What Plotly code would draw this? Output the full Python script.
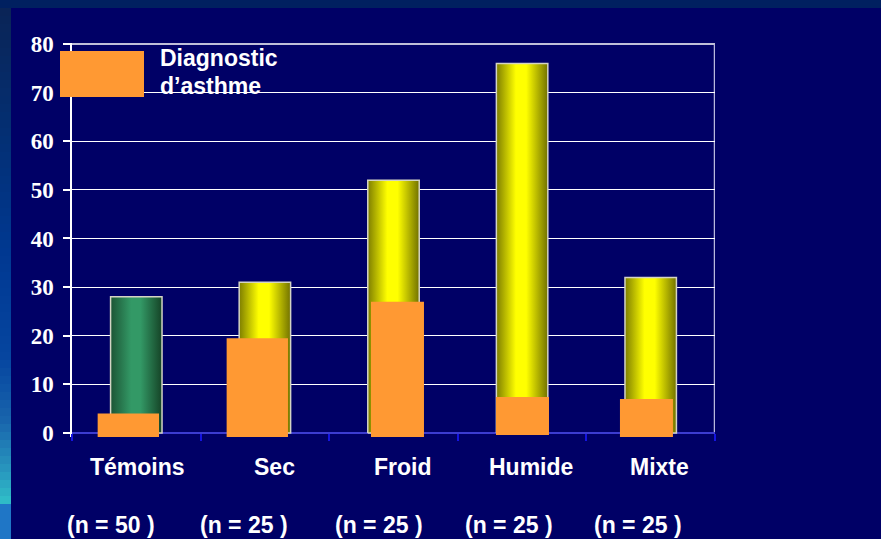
import plotly.graph_objects as go

# ---- data -------------------------------------------------------------
categories = ["Témoins", "Sec", "Froid", "Humide", "Mixte"]
group_sizes = ["(n = 50 )", "(n = 25 )", "(n = 25 )", "(n = 25 )", "(n = 25 )"]
total_values = [28, 31, 52, 76, 32]          # cylinder heights
asthma_values = [4, 19.5, 27, 7.4, 7]        # "Diagnostic d'asthme" blocks
y_ticks = [0, 10, 20, 30, 40, 50, 60, 70, 80]

# ---- styling ----------------------------------------------------------
BG = "#000066"
ORANGE = "#ff9933"
YELLOW_SCALE = [[0, "#7e7e00"], [0.38, "#ffff00"], [0.58, "#ffff00"], [1, "#727200"]]
GREEN_SCALE = [[0, "#1c5434"], [0.4, "#339966"], [0.58, "#339966"], [1, "#154326"]]
cyl_scales = [GREEN_SCALE] + [YELLOW_SCALE] * 4
CYL_WIDTH = 0.4
orange_width = [0.477, 0.477, 0.412, 0.412, 0.412]
orange_offset = [-0.062, -0.059, 0.031, 0.003, -0.033]
orange_base = [-0.8, -0.8, -0.8, -0.4, -0.8]
label_shift = [1, 10, 9, 9, 9]
size_shift = [-25, -21, -15, -13, -13]

W, H = 881, 539
L, R, T, B = 72, 715, 43, 437
Y_MIN, Y_MAX = -0.82, 80.2


def px_x(p):
    return (p - L) / (R - L)


def px_y(p):
    return (B - p) / (B - T)


fig = go.Figure()

# cylinders with horizontal shading
for i, (v, sc) in enumerate(zip(total_values, cyl_scales)):
    x0, x1 = i - CYL_WIDTH / 2, i + CYL_WIDTH / 2
    fig.add_trace(go.Scatter(
        x=[x0, x1, x1, x0, x0], y=[0, 0, v, v, 0],
        mode="lines", fill="toself",
        fillgradient=dict(type="horizontal", colorscale=sc, start=x0, stop=x1),
        line=dict(color="#d4d4c4", width=1.5),
        hoverinfo="skip", showlegend=False,
    ))

# asthma diagnosis blocks drawn on top
for i, v in enumerate(asthma_values):
    c = i + orange_offset[i]
    x0, x1 = c - orange_width[i] / 2, c + orange_width[i] / 2
    b = orange_base[i]
    fig.add_trace(go.Scatter(
        x=[x0, x1, x1, x0, x0], y=[b, b, v, v, b],
        mode="lines", fill="toself", fillcolor=ORANGE,
        line=dict(width=0, color=ORANGE),
        hoverinfo="skip", showlegend=False,
    ))

shapes = []
# top band of the slide background
shapes.append(dict(type="rect", xref="paper", yref="paper",
                   x0=px_x(0), x1=px_x(W), y0=px_y(8), y1=px_y(0),
                   fillcolor="#002060", line=dict(width=0), layer="below"))

# left band: vertical colour ramp
stops = [(8, (10, 36, 86)), (120, (4, 46, 112)), (250, (0, 56, 145)),
         (360, (6, 70, 160)), (420, (24, 100, 172)), (470, (40, 150, 190)),
         (504, (48, 192, 200))]


def lerp_color(p):
    for (pa, ca), (pb, cb) in zip(stops[:-1], stops[1:]):
        if pa <= p <= pb:
            t = (p - pa) / (pb - pa)
            return "rgb(%d,%d,%d)" % tuple(round(a + (b - a) * t) for a, b in zip(ca, cb))
    return "rgb(%d,%d,%d)" % stops[-1][1]


step = 8
for p in range(8, 504, step):
    shapes.append(dict(type="rect", xref="paper", yref="paper",
                       x0=px_x(0), x1=px_x(11), y0=px_y(min(p + step, 504)), y1=px_y(p),
                       fillcolor=lerp_color(p + step / 2), line=dict(width=0), layer="below"))
shapes.append(dict(type="rect", xref="paper", yref="paper",
                   x0=px_x(0), x1=px_x(11), y0=px_y(H), y1=px_y(504),
                   fillcolor="#1f76c6", line=dict(width=0), layer="below"))

# top and right edges of the plot frame
shapes.append(dict(type="line", xref="x", yref="y", x0=-0.5, x1=4.5, y0=80, y1=80,
                   line=dict(color="white", width=1.5), layer="below"))
shapes.append(dict(type="line", xref="x", yref="y", x0=4.5, x1=4.5, y0=0, y1=80,
                   line=dict(color="#b8b8dc", width=2.5), layer="below"))

# legend swatch
shapes.append(dict(type="rect", xref="paper", yref="paper",
                   x0=px_x(60), x1=px_x(144), y0=px_y(97), y1=px_y(51),
                   fillcolor=ORANGE, line=dict(width=0), layer="above"))

sans = dict(family="Liberation Sans, Arial, sans-serif", size=23, color="white", weight="bold")

annotations = [
    dict(text="Diagnostic", xref="paper", yref="paper", x=px_x(158), y=px_y(57.5),
         xanchor="left", yanchor="middle", showarrow=False, font=sans),
    dict(text="d’asthme", xref="paper", yref="paper", x=px_x(158), y=px_y(86.5),
         xanchor="left", yanchor="middle", showarrow=False, font=sans),
]
for i, (cat, n) in enumerate(zip(categories, group_sizes)):
    annotations.append(dict(text=cat, xref="x", yref="paper", x=i, y=px_y(466.5),
                            xshift=label_shift[i], xanchor="center", yanchor="middle",
                            showarrow=False, font=sans))
    annotations.append(dict(text=n, xref="x", yref="paper", x=i, y=px_y(525),
                            xshift=size_shift[i], xanchor="center", yanchor="middle",
                            showarrow=False, font=sans))

fig.update_layout(
    width=W, height=H,
    margin=dict(l=L, r=W - R, t=T, b=H - B, pad=0),
    paper_bgcolor=BG, plot_bgcolor=BG,
    showlegend=False,
    shapes=shapes, annotations=annotations,
    xaxis=dict(range=[-0.5, 4.5], showgrid=False, zeroline=False,
               showline=True, linecolor="#3c3cd0", linewidth=2,
               anchor="free", position=(0 - Y_MIN) / (Y_MAX - Y_MIN),
               tickmode="array", tickvals=[i - 0.5 for i in range(len(categories) + 1)],
               ticks="outside", ticklen=7, tickwidth=2, tickcolor="#1414e0",
               showticklabels=False, layer="below traces", fixedrange=True),
    yaxis=dict(range=[Y_MIN, Y_MAX], tickmode="array", tickvals=y_ticks,
               showgrid=True, gridcolor="white", gridwidth=1.2, zeroline=False,
               showline=True, linecolor="white", linewidth=1.5,
               ticks="outside", ticklen=7, tickwidth=1.5, tickcolor="white",
               ticklabelstandoff=5,
               tickfont=dict(family="Liberation Serif, Times New Roman, serif",
                             size=23, color="white", weight="bold"),
               layer="below traces", fixedrange=True),
)

fig.write_html("out.html")
